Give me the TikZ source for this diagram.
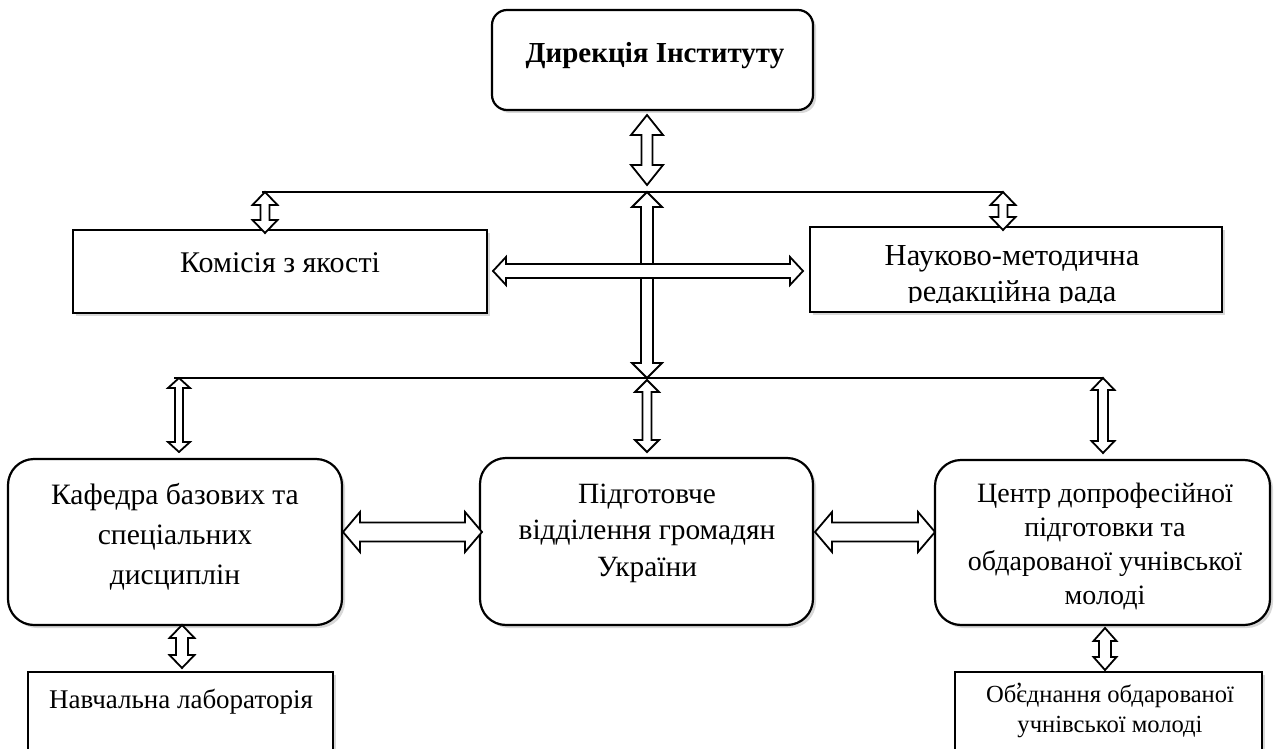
\documentclass[tikz,border=0pt]{standalone}
\usepackage{fontspec}
\setmainfont{Liberation Serif}
\usetikzlibrary{calc,shadows}
\tikzset{
  sbox/.style={draw, line width=2.2pt, fill=white, inner sep=0pt,
    drop shadow={shadow xshift=3pt,shadow yshift=-3pt,opacity=0.3}},
  rbox/.style={sbox, rounded corners=26pt},
  txt/.style={align=center, inner sep=0pt},
  arr/.style={draw, line width=1.8pt, fill=white, line join=miter},
  hline/.style={line width=2pt},
}
% double-headed block arrow: from, to, half shaft, half head, head length
\newcommand\dbl[5]{%
  \draw[arr] (#1)
   -- ($(#1)!#5!(#2)!#4!90:(#2)$) -- ($(#1)!#5!(#2)!#3!90:(#2)$)
   -- ($(#2)!#5!(#1)!#3!-90:(#1)$) -- ($(#2)!#5!(#1)!#4!-90:(#1)$)
   -- (#2)
   -- ($(#2)!#5!(#1)!#4!90:(#1)$) -- ($(#2)!#5!(#1)!#3!90:(#1)$)
   -- ($(#1)!#5!(#2)!#3!-90:(#2)$) -- ($(#1)!#5!(#2)!#4!-90:(#2)$)
   -- cycle;}
\begin{document}
\begin{tikzpicture}[x=1pt,y=-1pt]
\useasboundingbox (0,0) rectangle (1279,749);
\fill[white] (0,0) rectangle (1279,749);

% ---- boxes ----
\node[sbox, rounded corners=15pt, minimum width=321pt, minimum height=100pt] (dir) at (652.5,60) {};
\node[txt, font=\fontsize{29}{34}\selectfont\bfseries] (dirt) at (655,56) {Дирекція Інституту};

\node[sbox, minimum width=414pt, minimum height=83pt] (kom) at (280,271.5) {};
\node[txt, font=\fontsize{30}{36}\selectfont] (komt) at (280,263) {Комісія з якості};

\node[sbox, minimum width=412pt, minimum height=85pt] (nmr) at (1016,269.5) {};
\begin{scope}
  \clip (812,229) rectangle (1220,302);
  \node[txt, font=\fontsize{30.5}{36}\selectfont] (nmrt) at (1012,277) {Науково-методична\\редакційна рада};
\end{scope}

\node[rbox, minimum width=334pt, minimum height=166pt] (kaf) at (175,542) {};
\node[txt, font=\fontsize{29.6}{40}\selectfont] (kaft) at (175,537) {Кафедра базових та\\спеціальних\\дисциплін};

\node[rbox, minimum width=333pt, minimum height=167pt] (pid) at (646.5,541.5) {};
\node[txt, font=\fontsize{29.4}{36.5}\selectfont] (pidt) at (647,533) {Підготовче\\відділення громадян\\України};

\node[rbox, minimum width=335pt, minimum height=165pt] (cen) at (1102.5,542.5) {};
\node[txt, font=\fontsize{28}{34.3}\selectfont] (cent) at (1105,546.5) {Центр допрофесійної\\підготовки та\\обдарованої учнівської\\молоді};

\node[sbox, minimum width=305pt, minimum height=100pt] (lab) at (180.5,722) {};
\node[txt, font=\fontsize{27}{32}\selectfont] (labt) at (181,702) {Навчальна лабораторія};

\node[sbox, minimum width=307pt, minimum height=100pt] (obd) at (1108.5,722) {};
\node[txt, font=\fontsize{24.6}{30}\selectfont] (obdt) at (1110,710) {Об\makebox[0pt][l]{\kern-0.05em\raisebox{0.12em}{’}}єднання обдарованої\\учнівської молоді};

% ---- distribution lines ----
\coordinate (l1L) at (262,192);
\coordinate (l1R) at (1003,192);
\coordinate (l1C) at (647,192);
\draw[hline] (l1L) -- (l1R);

\coordinate (l2L) at (174,378);
\coordinate (l2R) at (1103,378);
\draw[hline] (l2L) -- (l2R);

% ---- arrow end points ----
\coordinate (a1s) at (647,115);  \coordinate (a1e) at (647,185);
\coordinate (a2s) at (265,192);  \coordinate (a2e) at (265,233);
\coordinate (a3s) at (1003,192); \coordinate (a3e) at (1003,230);
\coordinate (a4s) at (647,192);  \coordinate (a4e) at (647,378);
\coordinate (a5s) at (493,271);  \coordinate (a5e) at (803,271);
\coordinate (a6s) at (179,378);  \coordinate (a6e) at (179,452);
\coordinate (a7s) at (647,380);  \coordinate (a7e) at (647,452);
\coordinate (a8s) at (1103,378); \coordinate (a8e) at (1103,453);
\coordinate (a9s) at (343,532);  \coordinate (a9e) at (482,532);
\coordinate (a10s) at (815,532); \coordinate (a10e) at (935,532);
\coordinate (a11s) at (182,625); \coordinate (a11e) at (182,668);
\coordinate (a12s) at (1105,628);\coordinate (a12e) at (1105,670);

% ---- block arrows ----
\dbl{a1s}{a1e}{5.5pt}{16pt}{20pt}
\dbl{a2s}{a2e}{4.5pt}{12.5pt}{13pt}
\dbl{a3s}{a3e}{4.5pt}{12.5pt}{13pt}
\dbl{a4s}{a4e}{6pt}{15pt}{15pt}
\dbl{a5s}{a5e}{7pt}{14pt}{13pt}
\dbl{a6s}{a6e}{4pt}{11pt}{10pt}
\dbl{a7s}{a7e}{4.5pt}{12pt}{12pt}
\dbl{a8s}{a8e}{5pt}{11.5pt}{12pt}
\dbl{a9s}{a9e}{9.5pt}{20pt}{17pt}
\dbl{a10s}{a10e}{9.5pt}{20pt}{17pt}
\dbl{a11s}{a11e}{6pt}{12.5pt}{13pt}
\dbl{a12s}{a12e}{6pt}{11.5pt}{13pt}
\end{tikzpicture}
\end{document}
